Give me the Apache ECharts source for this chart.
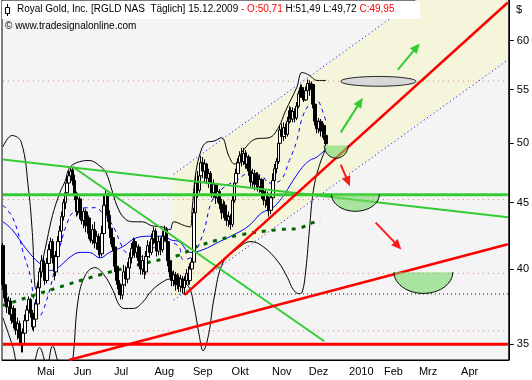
<!DOCTYPE html>
<html><head><meta charset="utf-8">
<script src="https://cdn.jsdelivr.net/npm/echarts@6/dist/echarts.min.js"></script>
<style>html,body{margin:0;padding:0;background:#fff}#c{width:532px;height:380px}</style>
</head><body><div id="c"></div><script>
// ---------- axis categories (NYSE/NASDAQ trading days) ----------
const holidays = ['2009-04-10','2009-05-25','2009-07-03','2009-09-07','2009-11-26','2009-12-25','2010-01-01','2010-01-18','2010-02-15','2010-04-02'];
const monthLabels = ['Jan','Feb','Mrz','Apr','Mai','Jun','Jul','Aug','Sep','Okt','Nov','Dez'];
const lastLabelDay = '2010-04-30';
const yTicks = [35, 40, 45, 50, 55, 60];
function tradingDays(from, to){
  const out=[]; let t=Date.parse(from+'T00:00:00Z'); const end=Date.parse(to+'T00:00:00Z');
  while(t<=end){ const d=new Date(t); const wd=d.getUTCDay(); const s=d.toISOString().slice(0,10);
    if(wd!==0&&wd!==6&&holidays.indexOf(s)<0) out.push(s); t+=86400000; }
  return out;
}
const categories = tradingDays('2009-04-06','2010-05-10');

// ---------- daily prices (RGLD, 06.04.2009 - 15.12.2009) ----------
const opens = [41.7,38.9,38.0,37.4,37.8,36.9,37.3,36.4,35.9,36.3,
35.4,35.0,35.7,36.5,37.2,37.9,37.0,36.1,36.6,37.6,
38.7,39.8,40.6,39.8,39.2,40.4,41.4,42.0,40.8,39.8,
40.9,42.0,42.8,43.9,45.0,45.8,46.6,47.2,47.7,46.8,
45.6,44.3,45.3,44.2,43.6,44.3,43.2,43.8,42.6,42.1,
42.9,41.9,42.4,41.4,41.1,42.6,44.8,45.6,44.0,43.0,
42.3,41.6,40.2,39.2,38.6,38.2,38.9,39.8,39.3,40.1,
40.8,41.5,42.0,41.2,41.6,40.6,40.0,40.6,39.8,40.9,
41.7,41.2,42.2,42.8,41.9,41.3,42.0,41.4,42.4,42.9,
42.0,40.6,39.8,39.2,39.6,38.9,39.4,38.8,39.3,38.7,
39.2,39.7,39.2,40.0,40.5,44.2,46.6,46.0,47.2,48.3,
47.6,48.2,47.0,47.4,46.6,45.8,46.5,45.4,45.9,44.9,
44.2,44.8,44.0,43.6,43.9,43.3,45.2,46.6,47.4,48.3,
48.9,48.4,49.1,48.2,48.8,47.6,46.7,47.4,46.5,47.2,
46.3,46.9,45.9,45.2,45.6,44.8,44.4,45.4,46.8,47.8,
48.4,50.0,51.2,50.6,51.4,50.8,52.0,53.0,52.2,52.9,
52.3,53.4,54.6,55.2,54.6,54.0,54.9,55.6,55.0,55.5,
53.6,52.0,51.3,52.0,51.1,51.6,50.71];
const closes = [38.9,38.0,37.4,37.8,36.9,37.3,36.4,35.9,36.3,35.4,
35.0,35.7,36.5,37.2,37.9,37.0,36.1,36.6,37.6,38.7,
39.8,40.6,39.8,39.2,40.4,41.4,42.0,40.8,39.8,40.9,
42.0,42.8,43.9,45.0,45.8,46.6,47.2,47.6,46.8,45.6,
44.3,45.3,44.2,43.6,44.3,43.2,43.8,42.6,42.1,42.9,
41.9,42.4,41.4,41.1,42.6,44.8,45.6,44.0,43.0,42.3,
41.6,40.2,39.2,38.6,38.2,38.9,39.8,39.3,40.1,40.8,
41.5,42.0,41.2,41.6,40.6,40.0,40.6,39.8,40.9,41.7,
41.2,42.2,42.8,41.9,41.3,42.0,41.4,42.4,42.9,42.0,
40.6,39.8,39.2,39.6,38.9,39.4,38.8,39.3,38.7,39.2,
39.7,39.2,40.0,40.5,44.2,46.6,46.0,47.2,48.3,47.6,
48.2,47.0,47.4,46.6,45.8,46.5,45.4,45.9,44.9,44.2,
44.8,44.0,43.6,43.9,43.3,45.2,46.6,47.4,48.3,48.9,
48.4,49.1,48.2,48.8,47.6,46.7,47.4,46.5,47.2,46.3,
46.9,45.9,45.2,45.6,44.8,44.4,45.4,46.8,47.8,48.4,
50.0,51.2,50.6,51.4,50.8,52.0,53.0,52.2,52.9,52.3,
53.4,54.6,55.2,54.6,54.0,54.9,55.6,55.0,55.5,53.6,
52.0,51.3,52.0,51.1,51.6,50.8,49.95];
const lows = [38.55,37.7,37.0,36.9,36.5,36.3,36.0,35.6,35.3,34.9,
34.5,34.5,35.3,36.2,36.9,36.7,35.9,35.8,36.3,37.4,
38.5,39.4,39.4,38.9,39.0,40.1,41.0,40.4,39.2,39.5,
40.6,41.7,42.5,43.6,44.5,45.4,46.0,46.6,46.4,45.2,
43.9,44.0,43.7,43.3,43.0,42.7,42.8,42.2,41.9,41.8,
41.5,41.4,41.0,40.8,40.9,42.4,44.2,43.5,42.6,41.8,
41.3,39.8,38.9,38.2,37.9,37.9,38.6,38.8,39.0,39.7,
40.4,41.0,40.8,40.8,40.2,39.6,39.6,39.3,39.6,40.6,
40.8,41.0,41.8,41.4,40.9,41.0,41.0,41.2,42.0,41.6,
40.2,39.4,38.8,38.8,38.5,38.6,38.4,38.4,38.3,38.2,
38.9,38.9,38.9,39.6,40.3,44.0,45.4,45.8,47.0,47.0,
46.6,46.5,46.2,46.0,45.4,45.4,44.9,45.0,44.5,43.7,
43.8,43.6,43.2,43.1,42.9,43.1,45.0,46.3,47.0,47.8,
48.0,48.1,47.8,47.8,47.2,46.3,46.2,46.0,46.1,45.9,
45.8,45.3,44.8,44.6,44.3,43.9,44.1,45.2,46.5,47.4,
48.2,49.8,50.2,50.2,50.4,50.6,51.8,51.9,51.9,51.9,
52.1,53.2,54.2,54.2,53.8,53.9,54.6,54.4,54.2,53.2,
51.6,50.9,50.9,50.6,50.5,50.3,49.72];
const highs = [41.9,39.2,38.3,38.1,38.0,37.6,37.5,36.8,36.7,36.5,
35.8,36.0,36.9,37.5,38.1,38.0,37.2,36.9,37.9,39.0,
40.1,41.0,40.9,40.2,40.8,41.8,42.3,42.2,41.0,41.3,
42.4,43.2,44.3,45.3,46.2,47.1,47.6,47.9,47.9,47.3,
45.9,45.8,45.5,44.6,44.6,44.5,44.3,44.0,43.0,43.3,
43.5,42.8,42.6,41.8,43.2,45.6,46.0,45.8,44.4,43.3,
42.6,41.8,40.6,39.6,39.0,39.3,40.3,40.2,40.5,41.2,
41.9,42.3,42.2,41.9,41.8,41.0,41.0,40.9,41.3,42.1,
42.0,42.6,43.1,43.0,42.2,42.4,42.3,42.8,43.2,43.1,
42.2,41.0,40.0,39.9,39.8,39.7,39.6,39.6,39.5,39.5,
40.0,40.2,40.4,40.8,44.6,47.4,47.6,47.6,48.9,48.8,
48.6,48.3,47.8,47.6,47.0,46.9,46.6,46.3,46.1,45.3,
45.2,45.1,44.4,44.3,44.1,45.6,46.9,47.8,48.7,49.3,
49.6,49.6,49.4,49.2,49.0,47.9,47.8,47.7,47.5,47.5,
47.2,47.0,46.2,46.0,45.9,45.2,45.8,47.4,48.2,48.7,
50.4,51.6,51.8,51.9,51.8,52.4,53.4,53.3,53.3,53.2,
53.8,54.9,55.5,55.5,54.9,55.3,56.0,55.9,55.8,55.6,
53.9,52.4,52.3,52.2,52.0,51.8,51.49];

// ---------- indicators ([day index, price]) ----------
const bollUpper = [[0,49.7],[5,50.7],[10,50.1],[14,46.0],[16,42.7],[18,38.6],[20,39.6],[24,42.1],[27,44.0],[31,45.8],[34,46.8],[36,47.8],[40,48.3],[47,48.5],[53,48.0],[56,47.5],[59,46.2],[62,44.8],[66,43.8],[71,43.5],[76,43.5],[81,43.2],[87,43.1],[91,42.9],[93,43.5],[99,43.2],[102,43.1],[103,44.4],[105,47.4],[108,49.4],[111,50.1],[115,50.2],[119,50.5],[123,48.9],[126,48.2],[131,49.4],[138,50.4],[145,50.5],[150,51.4],[154,53.0],[160,55.2],[163,56.7],[167,56.4],[171,55.9],[176,55.9]];
const bollLower = [[0,36.7],[5,35.0],[10,33.4],[16,33.7],[20,34.8],[24,33.7],[27,34.9],[31,33.7],[36,33.2],[38,34.0],[41,37.9],[45,39.6],[50,40.1],[55,39.6],[60,38.5],[63,37.6],[66,37.3],[71,37.3],[76,37.7],[81,38.5],[87,39.1],[91,39.3],[95,39.2],[101,38.8],[104,37.5],[107,35.5],[109,34.6],[112,35.6],[115,38.0],[120,40.5],[128,41.5],[135,42.0],[142,41.6],[150,40.5],[155,39.4],[158,38.6],[161,38.3],[163,38.4],[165,40.0],[167,43.0],[169,45.9],[172,47.9],[176,49.6]];
const maSlow = [[0,43.5],[5,42.9],[13,41.4],[20,40.4],[26,39.9],[31,40.2],[36,40.8],[42,41.2],[47,41.2],[53,40.8],[58,41.2],[65,41.6],[73,42.3],[80,42.4],[87,42.4],[92,42.1],[96,42.0],[102,41.2],[109,41.4],[118,42.0],[127,42.6],[134,43.2],[141,44.2],[147,44.6],[152,45.4],[158,46.8],[163,47.9],[167,48.5],[171,48.8],[176,49.5]];
const maFast = [[0,44.8],[5,43.9],[9,42.3],[11,41.2],[15,39.5],[17,37.8],[20,36.8],[22,37.2],[26,38.8],[29,40.5],[32,42.1],[35,43.4],[38,44.2],[46,44.6],[51,44.6],[54,44.2],[58,43.6],[61,42.9],[64,41.9],[67,41.2],[75,40.9],[80,41.4],[85,41.7],[91,41.9],[96,41.6],[98,40.7],[103,40.9],[109,42.6],[114,45.2],[120,46.2],[127,46.8],[134,47.4],[141,47.2],[145,46.6],[151,46.8],[156,48.5],[160,50.2],[163,52.3],[167,53.6],[171,53.9],[174,53.0],[176,51.9]];
const maLong = [[0,37.5],[26,38.55],[53,39.6],[80,40.5],[96,41.0],[107,41.7],[129,42.5],[150,42.9],[161,43.0],[168,43.4],[173,43.6]];

// ---------- drawn lines ----------
const greenLong = [[0,48.58],[275,43.85]];
const greenSteep = [[38,47.96],[175,35.19]];
const greenLevel = [[0,45.63],[275,45.63]];
const redTrend = [[99,38.21],[275,64.2]];
const redLow = [[36,34.04],[275,41.8]];
const redLevel = [[0,35.0],[275,35.0]];
const channelUpper = [[93,47.34],[275,72.5]];
const channelLower = [[93,37.86],[275,57.97]];
const pinkLevels = [55.84, 45.25, 39.70, 35.85];
const blackLevel = 38.27;

// ---------- annotations ----------
const greenArrows = [[[184,50.98],[196,54.2]],[[215,56.95],[227,59.69]]];
const redArrows = [[[184,48.15],[189,46.33]],[[203,43.44],[217,41.42]]];
const grayEllipse = [184, 225, 56.3, 55.33];
const bowls = [[175,188,49.8,48.7],[179,205,45.66,44.32],[213,245,39.78,38.31]];

const FONT = 'Liberation Sans';
const chart = echarts.init(document.getElementById('c'), null, {renderer:'canvas'});

function lineSeries(data, color, width, type, smooth, z){
  return {type:'line', data:data, symbol:'none', smooth:smooth||false, silent:true, z:z||3,
    lineStyle:{color:color, width:width, type:type||'solid', cap:'butt'}, animation:false};
}
const series = [];
series.push({type:'custom', coordinateSystem:'cartesian2d', data:[[0,40]], z:1, silent:true, clip:true,
  renderItem:function(params, api){
    const pts=[api.coord(channelUpper[0]),api.coord(channelUpper[1]),api.coord(channelLower[1]),api.coord(channelLower[0])];
    return {type:'polygon', shape:{points:pts}, style:{fill:'#f5f5dc', stroke:null}};
  }});
pinkLevels.forEach(function(v){ series.push(lineSeries([[0,v],[275,v]], '#e07878', 1, [1,4], false, 2)); });
series.push(lineSeries([[0,blackLevel],[275,blackLevel]], '#000', 1, [1,3], false, 2));
series.push(lineSeries(channelUpper, '#0000ff', 1, [1,3], false, 2));
series.push(lineSeries(channelLower, '#0000ff', 1, [1,3], false, 2));
series.push(lineSeries(bollUpper, '#000', 1, 'solid', 0.4, 3));
series.push(lineSeries(bollLower, '#000', 1, 'solid', 0.4, 3));
series.push(lineSeries(maSlow, '#0000ff', 1, 'solid', 0.4, 3));
series.push(lineSeries(maFast, '#0000ff', 1, [4,4], 0.4, 3));
series.push(lineSeries(maLong, '#006400', 3, [4,6], 0.4, 3));
series.push({type:'candlestick', silent:true, z:4, barWidth:3, animation:false,
  data: opens.map(function(o,i){ return [o, closes[i], lows[i], highs[i]]; }),
  itemStyle:{color:'#ffffff', color0:'#000000', borderColor:'#000000', borderColor0:'#000000', borderWidth:1}});
series.push(lineSeries(greenLong, '#33cc33', 2, 'solid', false, 6));
series.push(lineSeries(greenSteep, '#33cc33', 2, 'solid', false, 6));
series.push(lineSeries(greenLevel, '#33cc33', 3, 'solid', false, 6));
series.push(lineSeries(redTrend, '#ff0000', 2.5, 'solid', false, 6));
series.push(lineSeries(redLow, '#ff0000', 2.5, 'solid', false, 6));
series.push(lineSeries(redLevel, '#ff0000', 3, 'solid', false, 6));
function arrowShapes(p1, p2, color){
  const dx=p2[0]-p1[0], dy=p2[1]-p1[1], len=Math.sqrt(dx*dx+dy*dy), ux=dx/len, uy=dy/len;
  const hl=10, hw=4.5; const b=[p2[0]-ux*hl, p2[1]-uy*hl];
  return [
    {type:'line', shape:{x1:p1[0],y1:p1[1],x2:b[0]+ux*2,y2:b[1]+uy*2}, style:{stroke:color, lineWidth:2}},
    {type:'polygon', shape:{points:[p2,[b[0]+uy*hw,b[1]-ux*hw],[b[0]-uy*hw,b[1]+ux*hw]]}, style:{fill:color}}
  ];
}
series.push({type:'custom', coordinateSystem:'cartesian2d', data:[[0,40]], z:10, silent:true, clip:true,
  renderItem:function(params, api){
    const ch=[];
    bowls.forEach(function(b){
      const l=api.coord([b[0],b[2]]), r=api.coord([b[1],b[2]]), bt=api.coord([b[0],b[3]]);
      const cx=(l[0]+r[0])/2, rx=(r[0]-l[0])/2, ry=bt[1]-l[1]; const pts=[];
      for(let k=0;k<=40;k++){ const t=Math.PI*k/40; pts.push([cx+rx*Math.cos(t), l[1]+ry*Math.sin(t)]); }
      ch.push({type:'polygon', shape:{points:pts}, style:{fill:'rgba(117,217,104,0.6)'}});
      ch.push({type:'polyline', shape:{points:pts}, style:{stroke:'#000', lineWidth:1, fill:null}});
    });
    const e1=api.coord([grayEllipse[0],grayEllipse[2]]), e2=api.coord([grayEllipse[1],grayEllipse[3]]);
    const ecx=(e1[0]+e2[0])/2, ecy=(e1[1]+e2[1])/2, erx=(e2[0]-e1[0])/2, ery=(e2[1]-e1[1])/2, ep=[];
    for(let k=0;k<60;k++){ const t=2*Math.PI*k/60; ep.push([ecx+erx*Math.cos(t), ecy+ery*Math.sin(t)]); }
    ch.push({type:'polygon', shape:{points:ep}, style:{fill:'#d8d8d8', stroke:'#222', lineWidth:1}});
    greenArrows.forEach(function(a){ arrowShapes(api.coord(a[0]),api.coord(a[1]),'#33cc33').forEach(function(s){ch.push(s);}); });
    redArrows.forEach(function(a){ arrowShapes(api.coord(a[0]),api.coord(a[1]),'#ff1a1a').forEach(function(s){ch.push(s);}); });
    return {type:'group', children:ch};
  }});

function isMonthStart(i){ return i>0 && categories[i]<=lastLabelDay && categories[i].slice(5,7)!==categories[i-1].slice(5,7); }
chart.setOption({
  animation:false, backgroundColor:'#ffffff',
  grid:{left:2, right:22, top:-1, bottom:20, show:true, backgroundColor:'#f4f4f4', borderColor:'#000', borderWidth:1},
  xAxis:{type:'category', data:categories, boundaryGap:true,
    axisLine:{lineStyle:{color:'#000'}},
    axisTick:{alignWithLabel:true, length:5, interval:function(i){return isMonthStart(i);}, lineStyle:{color:'#000'}},
    axisLabel:{interval:function(i){return isMonthStart(i);}, align:'left', margin:6, padding:[0,0,0,1],
      color:'#000', fontFamily:FONT, fontSize:11,
      formatter:function(v){ const m=+v.slice(5,7); return m===1? v.slice(0,4) : monthLabels[m-1]; }},
    splitLine:{show:false}},
  yAxis:{type:'log', logBase:10, min:34.04, max:64.48, position:'right',
    axisLine:{show:true, lineStyle:{color:'#000'}},
    axisTick:{show:true, length:5, customValues:yTicks, lineStyle:{color:'#000'}},
    axisLabel:{show:true, customValues:yTicks, margin:8, color:'#000', fontFamily:FONT, fontSize:11},
    splitLine:{show:false}},
  graphic:[
    {type:'rect', left:2, top:1, shape:{width:418, height:18}, style:{fill:'#ffffff'}, z:100},
    {type:'line', shape:{x1:7.5,y1:4,x2:7.5,y2:16}, style:{stroke:'#000', lineWidth:1}, z:101},
    {type:'rect', shape:{x:5.5,y:7.5,width:4,height:6}, style:{fill:'#fff', stroke:'#000', lineWidth:1}, z:102},
    {type:'text', left:17, top:4, z:101, style:{
      text:'{k|Royal Gold, Inc. [RGLD NAS  Täglich] 15.12.2009 }{r|- O:50,71 }{k|H:51,49 L:49,72 }{r|C:49,95}',
      rich:{k:{fill:'#000', fontFamily:FONT, fontSize:10}, r:{fill:'#ff0000', fontFamily:FONT, fontSize:10}}}},
    {type:'text', left:5, top:21, z:101, style:{text:'© www.tradesignalonline.com', fill:'#000', fontFamily:FONT, fontSize:10}},
    {type:'text', left:516, top:4, z:101, style:{text:'$', fill:'#000', fontFamily:FONT, fontSize:11}}
  ],
  series: series
});
</script></body></html>
